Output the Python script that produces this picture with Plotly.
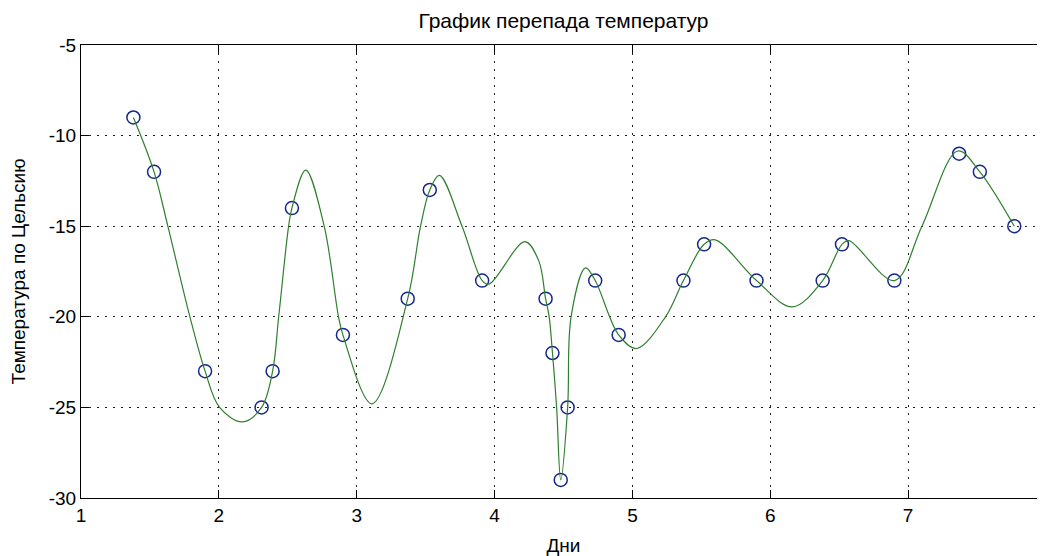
import plotly.graph_objects as go

# Measured points (days, temperature)
days = [1.38, 1.53, 1.90, 2.31, 2.39, 2.53, 2.90, 3.37, 3.53, 3.91, 4.37, 4.42, 4.48,
        4.53, 4.73, 4.90, 5.37, 5.52, 5.90, 6.38, 6.52, 6.90, 7.37, 7.52, 7.77]
temps = [-9, -12, -23, -25, -23, -14, -21, -19, -13, -18, -19, -22, -29,
         -25, -18, -21, -18, -16, -18, -18, -16, -18, -11, -12, -15]

# Smooth curve, values (green line)
curve_x = [1.38, 1.53, 1.63, 1.79, 1.90, 2.005, 2.17, 2.31, 2.39, 2.434, 2.506, 2.53,
           2.63, 2.764, 2.868, 2.90, 3.11, 3.37, 3.463, 3.53, 3.60, 3.764, 3.91,
           3.96, 4.22, 4.32, 4.37, 4.396, 4.42, 4.45, 4.48, 4.53, 4.555, 4.66, 4.73,
           4.90, 5.03, 5.24, 5.37, 5.52, 5.60, 5.90, 6.16, 6.38, 6.52, 6.57, 6.90,
           7.10, 7.36, 7.52, 7.77]
curve_y = [-9, -12, -15, -20, -23, -25, -25.8, -25, -23, -20, -15, -14,
           -11.9, -15, -20, -21, -24.8, -19, -15, -13, -12.2, -15, -18,
           -18.2, -15.85, -16.9, -19, -20, -22, -25, -29, -25, -20, -17.3, -18,
           -21, -21.75, -20, -18, -16, -15.75, -18, -19.45, -18, -16, -15.8, -18,
           -15, -10.85, -12, -15]

x_ticks = [1, 2, 3, 4, 5, 6, 7, 8]
y_ticks = [-30, -25, -20, -15, -10, -5]

FONT = "Liberation Sans, Arial, sans-serif"

fig = go.Figure()
fig.add_trace(go.Scatter(
    x=days, y=temps, mode="markers",
    marker=dict(symbol="circle-open", size=13, color="#15288a",
                line=dict(width=1.5, color="#15288a")),
    showlegend=False, hoverinfo="x+y"))
fig.add_trace(go.Scatter(
    x=curve_x, y=curve_y, mode="lines",
    line=dict(color="#2f7f2f", width=1.2, shape="spline", smoothing=1.0),
    showlegend=False, hoverinfo="skip"))

axis_common = dict(
    showline=True, linecolor="black", linewidth=1, mirror="ticks",
    ticks="inside", ticklen=8, tickcolor="black", tickwidth=1,
    showgrid=True, gridcolor="#222222", gridwidth=1.3, griddash="1.5px,6.5px",
    zeroline=False, automargin=False,
    tickfont=dict(family=FONT, size=19, color="black"),
)

fig.update_layout(
    width=1045, height=556,
    margin=dict(l=73, r=7, t=37, b=66),
    paper_bgcolor="white", plot_bgcolor="white",
    font=dict(family=FONT, size=19, color="black"),
    title=dict(text="График перепада температур", x=0.5, xref="paper",
               y=1 - 13 / 556, yref="container", yanchor="middle",
               font=dict(family=FONT, size=21, color="black")),
    xaxis=dict(range=[1, 8], tickvals=x_ticks, ticktext=[str(v) for v in x_ticks],
               title=dict(text="Дни", standoff=13, font=dict(family=FONT, size=19)),
               **axis_common),
    yaxis=dict(range=[-30, -5], tickvals=y_ticks, ticktext=[str(v) for v in y_ticks],
               title=dict(text="Температура по Цельсию", standoff=21,
                          font=dict(family=FONT, size=19)),
               **axis_common),
)

fig.write_html("out.html")
